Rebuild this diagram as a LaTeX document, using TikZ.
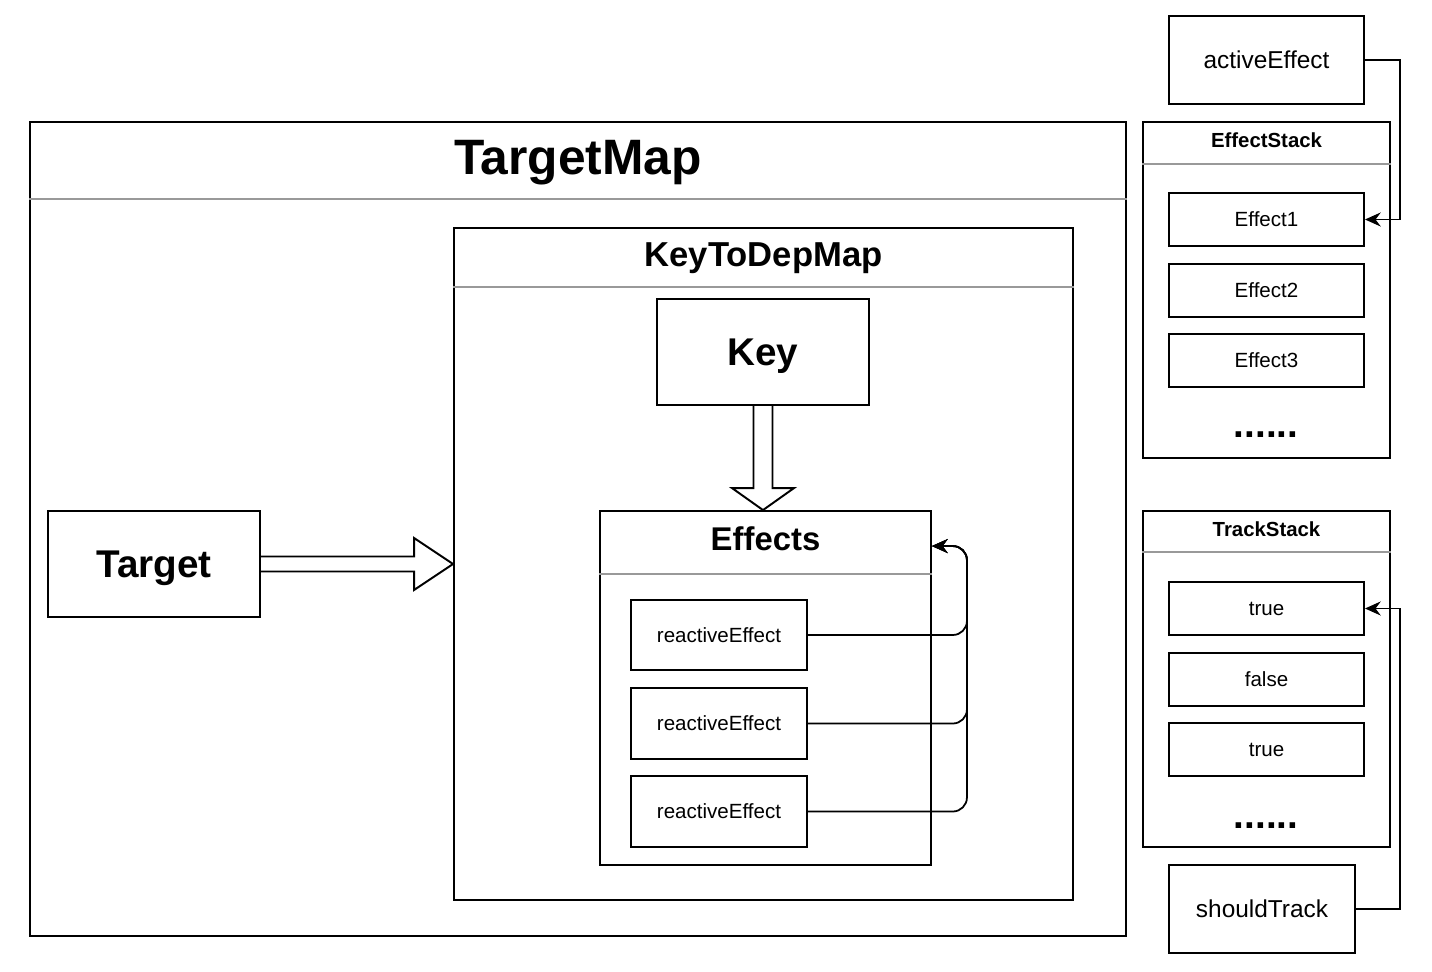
\documentclass[tikz,border=0pt]{standalone}
\usepackage{fontspec}
\setmainfont{Liberation Sans}
\usetikzlibrary{arrows.meta,positioning,calc}

\begin{document}
\begin{tikzpicture}[
    x=0.02cm, y=-0.02cm,
    frame/.style={rectangle, draw, line width=1.1pt, inner sep=0pt},
    box/.style={frame, text depth=0pt},
    small/.style={font=\fontsize{11.7}{14}\selectfont},
    mid/.style={font=\fontsize{13.9}{16}\selectfont},
    title/.style={anchor=base, font=\bfseries\fontsize{#1}{#1}\selectfont},
    sep/.style={draw=black!40, line width=0.9pt},
    hollow/.style={draw, line width=1.1pt, line join=miter},
    arrow/.style={-{Stealth[length=9pt, width=8pt, inset=3pt]}, line width=1pt}
]
    \fill[white] (0,0) rectangle (1432,972);
    \useasboundingbox (0,0) rectangle (1432,972);

    % containers
    \node[frame, minimum width=21.92cm, minimum height=16.28cm] (tmap) at (578,529) {};
    \draw[sep] ($(tmap.north west)+(0,78)$) -- ($(tmap.north east)+(0,78)$);
    \node[title=28.3] (tmaptitle) at ($(tmap.north)+(0,53)$) {TargetMap};

    \node[frame, minimum width=12.38cm, minimum height=13.44cm] (kmap) at (763.5,564) {};
    \draw[sep] ($(kmap.north west)+(0,60)$) -- ($(kmap.north east)+(0,60)$);
    \node[title=19.7] (kmaptitle) at ($(kmap.north)+(0,39)$) {KeyToDepMap};

    \node[frame, minimum width=6.62cm, minimum height=7.08cm] (effs) at (765.5,688) {};
    \draw[sep] ($(effs.north west)+(0,64)$) -- ($(effs.north east)+(0,64)$);
    \node[title=18.7] (effstitle) at ($(effs.north)+(0,40)$) {Effects};

    \node[frame, minimum width=4.94cm, minimum height=6.72cm] (estack) at (1266.5,290) {};
    \draw[sep] ($(estack.north west)+(0,43)$) -- ($(estack.north east)+(0,43)$);
    \node[title=11.6] (estacktitle) at ($(estack.north)+(0,26)$) {EffectStack};

    \node[frame, minimum width=4.94cm, minimum height=6.72cm] (tstack) at (1266.5,679) {};
    \draw[sep] ($(tstack.north west)+(0,42)$) -- ($(tstack.north east)+(0,42)$);
    \node[title=11.6] (tstacktitle) at ($(tstack.north)+(0,26)$) {TrackStack};

    % boxes
    \node[box, minimum width=4.24cm, minimum height=2.12cm, font=\bfseries\fontsize{22}{26}\selectfont] (target) at (154,564) {Target};
    \node[box, minimum width=4.24cm, minimum height=2.12cm, font=\bfseries\fontsize{22}{26}\selectfont] (key) at (763,352) {Key};
    \node[box, small, minimum width=3.52cm, minimum height=1.4cm] (re1) at (719,635) {reactiveEffect};
    \node[box, small, minimum width=3.52cm, minimum height=1.42cm] (re2) at (719,723.5) {reactiveEffect};
    \node[box, small, minimum width=3.52cm, minimum height=1.42cm] (re3) at (719,811.5) {reactiveEffect};

    \node[box, mid, minimum width=3.9cm, minimum height=1.76cm] (actv) at (1266.5,60) {activeEffect};
    \node[box, small, minimum width=3.9cm, minimum height=1.06cm] (e1) at (1266.5,219.5) {Effect1};
    \node[box, small, minimum width=3.9cm, minimum height=1.06cm] (e2) at (1266.5,290.5) {Effect2};
    \node[box, small, minimum width=3.9cm, minimum height=1.06cm] (e3) at (1266.5,360.5) {Effect3};
    \node[title=22] (edots) at (1266,438) {......};

    \node[box, small, minimum width=3.9cm, minimum height=1.06cm] (t1) at (1266.5,608.5) {true};
    \node[box, small, minimum width=3.9cm, minimum height=1.06cm] (f1) at (1266.5,679.5) {false};
    \node[box, small, minimum width=3.9cm, minimum height=1.06cm] (t2) at (1266.5,749.5) {true};
    \node[title=22] (tdots) at (1266,828) {......};
    \node[box, mid, minimum width=3.72cm, minimum height=1.76cm] (should) at (1262,909) {shouldTrack};

    % hollow arrows
    \draw[hollow] ($(target.east)+(0,-7.5)$) -- ($(target.east -| kmap.west)+(-39,-7.5)$) -- ++(0,-18.5)
        -- (target.east -| kmap.west) -- ++(-39,26) -- ++(0,-18.5) -- ($(target.east)+(0,7.5)$);
    \draw[hollow] ($(key.south)+(-9.5,0)$) -- ($(key.south |- effs.north)+(-9.5,-22)$) -- ++(-21.5,0)
        -- (key.south |- effs.north) -- ++(31,-22) -- ++(-21.5,0) -- ($(key.south)+(9.5,0)$);

    % links
    \coordinate (effin) at ($(effs.north east)+(0,36)$);
    \foreach \r in {re1,re2,re3}
        \draw[arrow, rounded corners=8pt] (\r.east) -| ($(effin)+(35,0)$) -- (effin);
    \draw[arrow] (actv.east) -- ++(35,0) |- (e1.east);
    \draw[arrow] (should.east) -- ++(44,0) |- (t1.east);
\end{tikzpicture}
\end{document}
